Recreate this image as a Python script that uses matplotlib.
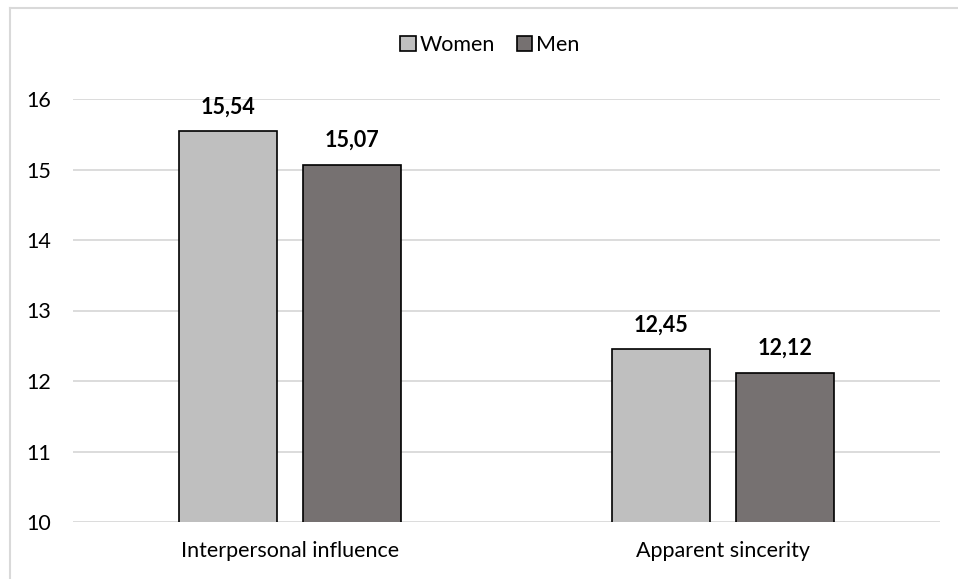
import matplotlib.pyplot as plt
import numpy as np
from matplotlib.lines import Line2D

plt.rcParams['font.family'] = ['Lato', 'DejaVu Sans']

categories = ['Interpersonal influence', 'Apparent sincerity']
women = [15.54, 12.45]
men = [15.07, 12.12]
series = ['Women', 'Men']
colors = ['#BFBFBF', '#767171']
yticks = [10, 11, 12, 13, 14, 15, 16]

fig = plt.figure(figsize=(9.58, 5.79), dpi=100)
ax = fig.add_axes([73 / 958, 1 - 522 / 579, 867 / 958, 423 / 579])

x = np.arange(len(categories))
w = 0.226
off = 0.143
for vals, name, c, dx in zip([women, men], series, colors, [-off, off]):
    bars = ax.bar(x + dx, vals, w, bottom=0, color=c, edgecolor='black',
                  linewidth=1.2, label=name, zorder=3)
    for b, v in zip(bars, vals):
        ax.annotate(f'{v:.2f}'.replace('.', ','),
                    (b.get_x() + b.get_width() / 2, v),
                    xytext=(0, 10), textcoords='offset points',
                    ha='center', va='bottom', fontsize=15.5, fontweight='bold')

ax.set_ylim(10, 16)
ax.set_xlim(-0.5, 1.5)
ax.set_yticks(yticks)
ax.set_xticks(x)
ax.set_xticklabels(categories, fontsize=15.5)
ax.tick_params(axis='y', length=0, pad=16, labelsize=15.5)
ax.tick_params(axis='x', length=0, pad=14)
ax.grid(axis='y', color='#D9D9D9', linewidth=1.3, zorder=0)
for s in ax.spines.values():
    s.set_visible(False)

# chart frame (left and top edges)
fig.add_artist(Line2D([10 / 958, 10 / 958], [0, 1 - 8 / 579], color='#D9D9D9', lw=1.5))
fig.add_artist(Line2D([10 / 958, 1], [1 - 8 / 579, 1 - 8 / 579], color='#D9D9D9', lw=1.5))

handles, labels = ax.get_legend_handles_labels()
fig.legend(handles, labels, loc='center', bbox_to_anchor=(490 / 958, 1 - 45 / 579),
           ncol=2, frameon=False, fontsize=15.5, handlelength=0.7, handleheight=0.7,
           handletextpad=0.2, columnspacing=1.0)

fig.savefig('out.png', dpi=100)
